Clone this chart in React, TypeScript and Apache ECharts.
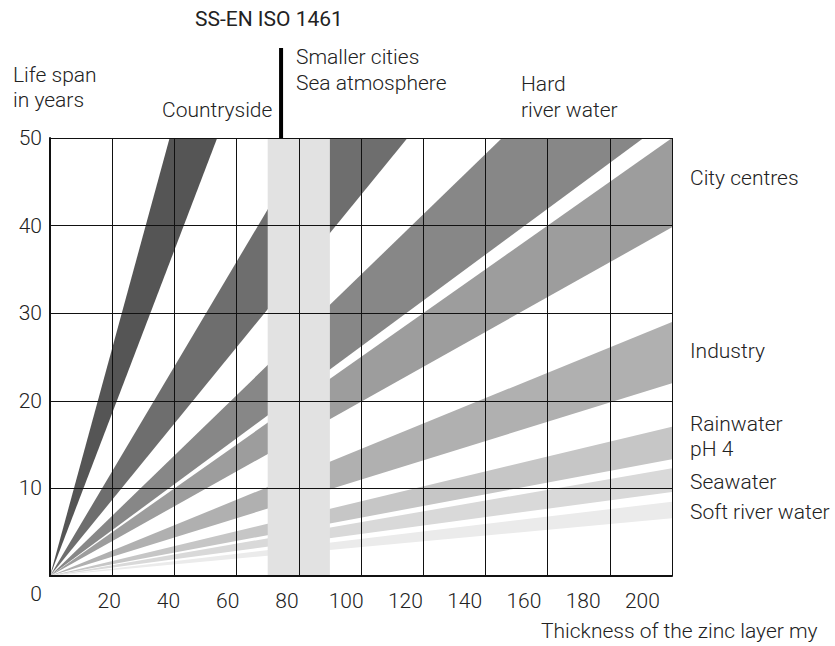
import React, { useEffect, useRef } from "react";
import * as echarts from "echarts";

// x: thickness of the zinc layer (µm), y: life span (years)
const xLabelValues = [20, 40, 60, 80, 100, 120, 140, 160, 180, 200];
const yTickValues = [0, 10, 20, 30, 40, 50];
const zoneNames = [
  "Countryside",
  "Smaller cities / Sea atmosphere",
  "Hard river water",
  "City centres",
  "Industry",
  "Rainwater pH 4",
  "Seawater",
  "Soft river water",
];
// years of life per µm of zinc: upper and lower edge of each wedge
const upperYearsPerMy = [1.3, 0.598, 0.344, 0.25, 0.145, 0.0852, 0.0615, 0.0424];
const lowerYearsPerMy = [0.93, 0.435, 0.262, 0.199, 0.11, 0.0666, 0.048, 0.033];
const zoneColors = ["#555555", "#6e6e6e", "#878787", "#9d9d9d", "#b0b0b0", "#c6c6c6", "#d9d9d9", "#ebebeb"];
const isoBand = [70, 90];
const isoMarkerThickness = 74.3;

const FONT = "Roboto";
const TXT = "#222";
const FS = 21;

export default function App() {
  const ref = useRef<HTMLDivElement>(null);
  useEffect(() => {
    document.body.style.margin = "0";
    const chart = echarts.init(ref.current!, undefined, { renderer: "svg" });
    const baseText = { fontFamily: FONT, fontSize: FS, fontWeight: 300, fill: TXT };
    const t = (text: string, x: number, y: number, extra: any = {}) => ({
      type: "text",
      x,
      y,
      style: { ...baseText, text, textVerticalAlign: "middle", ...extra },
      z: 20,
    });
    const option: any = {
      animation: false,
      backgroundColor: "#fff",
      grid: { left: 50, right: 163, top: 138, bottom: 70, show: false },
      xAxis: [
        {
          type: "value",
          min: 0,
          max: 200,
          interval: 20,
          z: 10,
          axisLine: { show: true, onZero: false, lineStyle: { color: "#111", width: 2 } },
          axisTick: { show: false },
          axisLabel: { show: false },
          splitLine: { show: true, lineStyle: { color: "#111", width: 1 } },
        },
        {
          type: "value",
          position: "bottom",
          min: 0,
          max: 210,
          z: 10,
          axisLine: { show: false },
          axisTick: { show: false },
          splitLine: { show: false },
          axisLabel: {
            customValues: xLabelValues,
            margin: 14,
            fontFamily: FONT,
            fontSize: FS,
            fontWeight: 300,
            color: TXT,
          },
        },
      ],
      yAxis: {
        type: "value",
        min: 0,
        max: 50,
        interval: 10,
        z: 10,
        axisLine: { show: true, lineStyle: { color: "#111", width: 2 } },
        axisTick: { show: false },
        splitLine: { show: true, lineStyle: { color: "#111", width: 1 } },
        axisLabel: {
          customValues: yTickValues,
          margin: 8,
          fontFamily: FONT,
          fontSize: FS,
          fontWeight: 300,
          color: TXT,
          formatter: (v: number) => (v === 0 ? "{z|0}" : String(v)),
          rich: { z: { padding: [36, 0, 0, 0], fontFamily: FONT, fontSize: FS, fontWeight: 300, color: TXT } },
        },
      },
      series: [
        {
          type: "custom",
          name: "zones",
          clip: true,
          z: 2,
          data: zoneNames.map((n, i) => ({ name: n, value: [upperYearsPerMy[i], lowerYearsPerMy[i], i] })),
          renderItem: (params: any, api: any) => {
            const ku = api.value(0);
            const kl = api.value(1);
            const i = api.value(2);
            const far = 200;
            return {
              type: "polygon",
              shape: {
                points: [api.coord([0, 0]), api.coord([far, ku * far]), api.coord([far, kl * far])],
              },
              style: { fill: zoneColors[i], stroke: null },
            };
          },
        },
        {
          type: "custom",
          name: "iso",
          clip: true,
          z: 3,
          data: [[isoBand[0], isoBand[1]]],
          renderItem: (params: any, api: any) => {
            const a = api.coord([api.value(0), 50]);
            const b = api.coord([api.value(1), 0]);
            return {
              type: "rect",
              shape: { x: a[0], y: a[1], width: b[0] - a[0], height: b[1] - a[1] },
              style: { fill: "#e2e2e2", stroke: null },
            };
          },
        },
      ],
    };
    chart.setOption(option);
    const mx = chart.convertToPixel({ xAxisIndex: 0 }, isoMarkerThickness) as number;
    const top = chart.convertToPixel({ yAxisIndex: 0 }, 50) as number;
    chart.setOption({
      graphic: [
        {
          type: "line",
          shape: { x1: mx, y1: 48, x2: mx, y2: top },
          style: { stroke: "#000", lineWidth: 4 },
          z: 20,
        },
        t("SS-EN ISO 1461", 195, 19, { fontWeight: 400 }),
        t("Smaller cities", 296, 57),
        t("Sea atmosphere", 296, 83),
        t("Life span", 13, 75),
        t("in years", 13, 100),
        t("Countryside", 162, 110),
        t("Hard", 521, 84),
        t("river water", 521, 110),
        t("City centres", 690, 178),
        t("Industry", 690, 351),
        t("Rainwater", 690, 424),
        t("pH 4", 690, 449),
        t("Seawater", 690, 482),
        t("Soft river water", 690, 512),
        t("Thickness of the zinc layer my", 541, 631),
      ],
    });
    return () => chart.dispose();
  }, []);
  return <div ref={ref} style={{ position: "fixed", left: 0, top: 0, width: 835, height: 646 }} />;
}
